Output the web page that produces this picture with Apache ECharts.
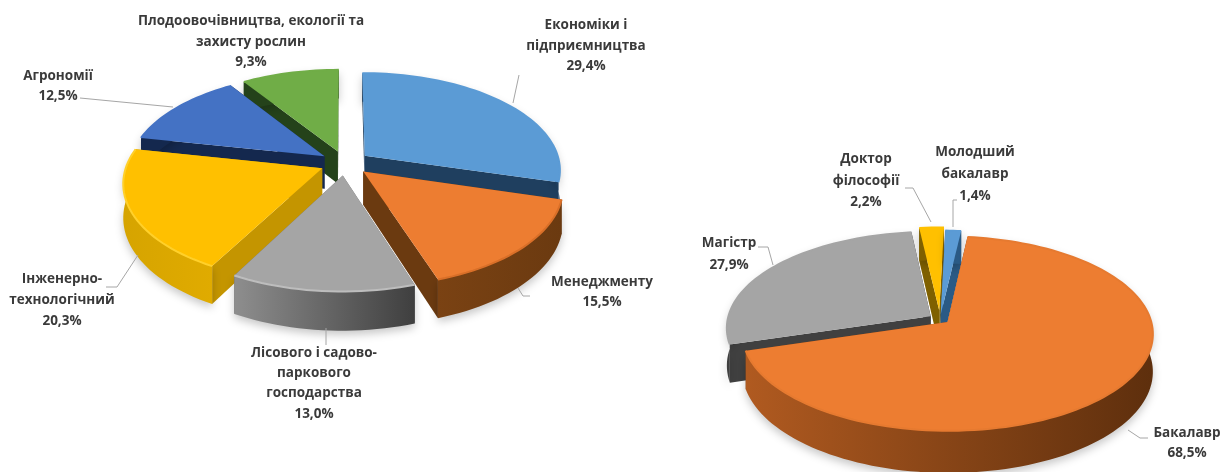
<!DOCTYPE html>
<html>
<head>
<meta charset="utf-8">
<script src="https://cdn.jsdelivr.net/npm/echarts@6/dist/echarts.min.js"></script>
<style>
html, body { margin: 0; padding: 0; background: #fff; }
#main { width: 1221px; height: 472px; }
</style>
</head>
<body>
<div id="main"></div>
<script>
// дані
const facultyNames = ['Економіки і\nпідприємництва', 'Менеджменту', 'Лісового і садово-\nпаркового\nгосподарства', 'Інженерно-\nтехнологічний', 'Агрономії', 'Плодоовочівництва, екології та\nзахисту рослин'];
const facultyValues = [29.4, 15.5, 13.0, 20.3, 12.5, 9.3];
const degreeNames = ['Молодший\nбакалавр', 'Бакалавр', 'Магістр', 'Доктор\nфілософії'];
const degreeValues = [1.4, 68.5, 27.9, 2.2];

// кольори: верх, бокова грань, обід, фаска
const facultyStyle = [
    { top: '#5B9BD5', side: '#1F3F5F', rim: ['#1F3F5F', '#1F3F5F'], bevel: '#5B9BD5' },
    { top: '#ED7D31', side: '#6B3A10', rim: ['#7A4213', '#6B3A10'], bevel: '#D96F28' },
    { top: '#A5A5A5', side: '#6A6A6A', rim: ['#8E8E8E', '#3F3F3F'], bevel: '#BDBDBD' },
    { top: '#FFC000', side: '#C49500', rim: ['#D6A400', '#E0AB00'], bevel: '#FFD02A' },
    { top: '#4472C4', side: '#14284E', rim: ['#14284E', '#14284E'], bevel: '#4472C4' },
    { top: '#70AD47', side: '#24421A', rim: ['#24421A', '#24421A'], bevel: '#70AD47' }
];
const degreeStyle = [
    { top: '#5B9BD5', side: '#2A5A85', rim: ['#2A5A85', '#2A5A85'], bevel: '#5B9BD5' },
    { top: '#ED7D31', side: '#7A3E12', rim: ['#B05A20', '#5E2F0D'], bevel: '#E67A30' },
    { top: '#A5A5A5', side: '#404040', rim: ['#404040', '#404040'], bevel: '#A5A5A5' },
    { top: '#FFC000', side: '#7F6000', rim: ['#7F6000', '#7F6000'], bevel: '#FFC000' }
];

const facultyLayout = {
    cx: 345, cy: 163, r: 195, ry: 96, k: 0.14, depth: 33, startAngle: 0,
    explode: [0.128, 0.128, 0.128, 0.128, 0.128, 0.128],
    labels: [[586, 46, 20.5], [602, 292, 20], [314, 383.5, 20.3], [62, 300, 21], [58, 86, 20], [251, 42, 20.5]],
    lines: [
        [[513, 103], [519, 75]],
        [[518, 288], [523, 296], [530, 296]],
        [[326, 328], [326, 345]],
        [[138, 255], [117, 287], [106, 287]],
        [[173, 107], [80, 98]],
        []
    ]
};
const degreeLayout = {
    cx: 940, cy: 319, r: 203, ry: 95, k: 0.12, depth: 37, startAngle: 1.5,
    explode: [0.048, 0.048, 0.055, 0.09],
    labels: [[975, 174, 22], [1187, 443, 20], [729, 254, 22], [866, 181, 21.5]],
    lines: [
        [[953, 227], [953, 200], [957, 200]],
        [[1128, 430], [1140, 438], [1148, 438]],
        [[758, 247], [768, 247], [773, 265]],
        [[905, 188], [913, 188], [931, 222]]
    ]
};

const labelFont = 'bold 13.5px "Open Sans", "Noto Sans", sans-serif';
const rad = Math.PI / 180;

// псевдо-3D сектор: кути рахуються зі значень, далі проєкція диска з перспективою
function makePie(names, values, style, layout) {
    const total = values.reduce((a, b) => a + b, 0);
    let acc = 0;
    const slices = values.map((v, i) => {
        const from = layout.startAngle + acc / total * 360;
        acc += v;
        const to = layout.startAngle + acc / total * 360;
        const mid = (from + to) / 2 * rad;
        const e = layout.explode[i];
        return { from, to, ox: Math.sin(mid) * e, oy: -Math.cos(mid) * e };
    });
    const project = (X, Y, down) => {
        const s = 1 / (1 - layout.k * Y);
        return [layout.cx + layout.r * X * s, layout.cy + layout.ry * Y * s + (down ? layout.depth * s : 0)];
    };
    // задні сектори малюємо першими
    const order = values.map((v, i) => i).sort((a, b) => slices[a].oy / layout.explode[a] - slices[b].oy / layout.explode[b]);

    return {
        type: 'custom',
        coordinateSystem: 'none',
        silent: true,
        animation: false,
        clip: false,
        data: order.map(i => [values[i], i]),
        renderItem: function (params, api) {
            const i = api.value(1);
            const sl = slices[i];
            const st = style[i];
            const base = params.dataIndex * 10;
            const rimAt = (deg, down) => project(sl.ox + Math.sin(deg * rad), sl.oy - Math.cos(deg * rad), down);
            const top = [], bottom = [];
            const steps = Math.max(4, Math.ceil((sl.to - sl.from) / 2));
            for (let j = 0; j <= steps; j++) {
                const a = sl.from + (sl.to - sl.from) * j / steps;
                top.push(rimAt(a, false));
                bottom.push(rimAt(a, true));
            }
            const apex = project(sl.ox, sl.oy, false);
            const apexDown = project(sl.ox, sl.oy, true);
            const shadow = { shadowBlur: 8, shadowOffsetY: 4, shadowColor: 'rgba(0,0,0,0.22)' };
            const children = [
                { type: 'polygon', z2: base + 1, shape: { points: [apex, top[0], bottom[0], apexDown] }, style: { fill: st.side } },
                { type: 'polygon', z2: base + 1, shape: { points: [apex, top[steps], bottom[steps], apexDown] }, style: { fill: st.side } },
                {
                    type: 'polygon', z2: base + 2,
                    shape: { points: top.concat(bottom.slice().reverse()) },
                    style: Object.assign({
                        fill: new echarts.graphic.LinearGradient(0, 0, 1, 0, [
                            { offset: 0, color: st.rim[0] },
                            { offset: 1, color: st.rim[1] }
                        ])
                    }, shadow)
                },
                { type: 'polygon', z2: base + 3, shape: { points: [apex].concat(top) }, style: { fill: st.top } },
                { type: 'polyline', z2: base + 4, shape: { points: top }, style: { fill: null, stroke: st.bevel, lineWidth: 2 } }
            ];
            const lab = layout.labels[i];
            children.push({
                type: 'text', z2: 1000,
                style: {
                    text: names[i] + '\n' + api.value(0).toFixed(1).replace('.', ',') + '%',
                    x: lab[0], y: lab[1], align: 'center', verticalAlign: 'middle',
                    font: labelFont, lineHeight: lab[2], fill: '#3A3A3A'
                }
            });
            if (layout.lines[i].length) {
                children.push({
                    type: 'polyline', z2: 999,
                    shape: { points: layout.lines[i] },
                    style: { fill: null, stroke: '#A6A6A6', lineWidth: 1 }
                });
            }
            return { type: 'group', children: children };
        }
    };
}

const myChart = echarts.init(document.getElementById('main'), null, { renderer: 'canvas' });
myChart.setOption({
    backgroundColor: '#ffffff',
    animation: false,
    series: [
        makePie(facultyNames, facultyValues, facultyStyle, facultyLayout),
        makePie(degreeNames, degreeValues, degreeStyle, degreeLayout)
    ]
});
</script>
</body>
</html>
